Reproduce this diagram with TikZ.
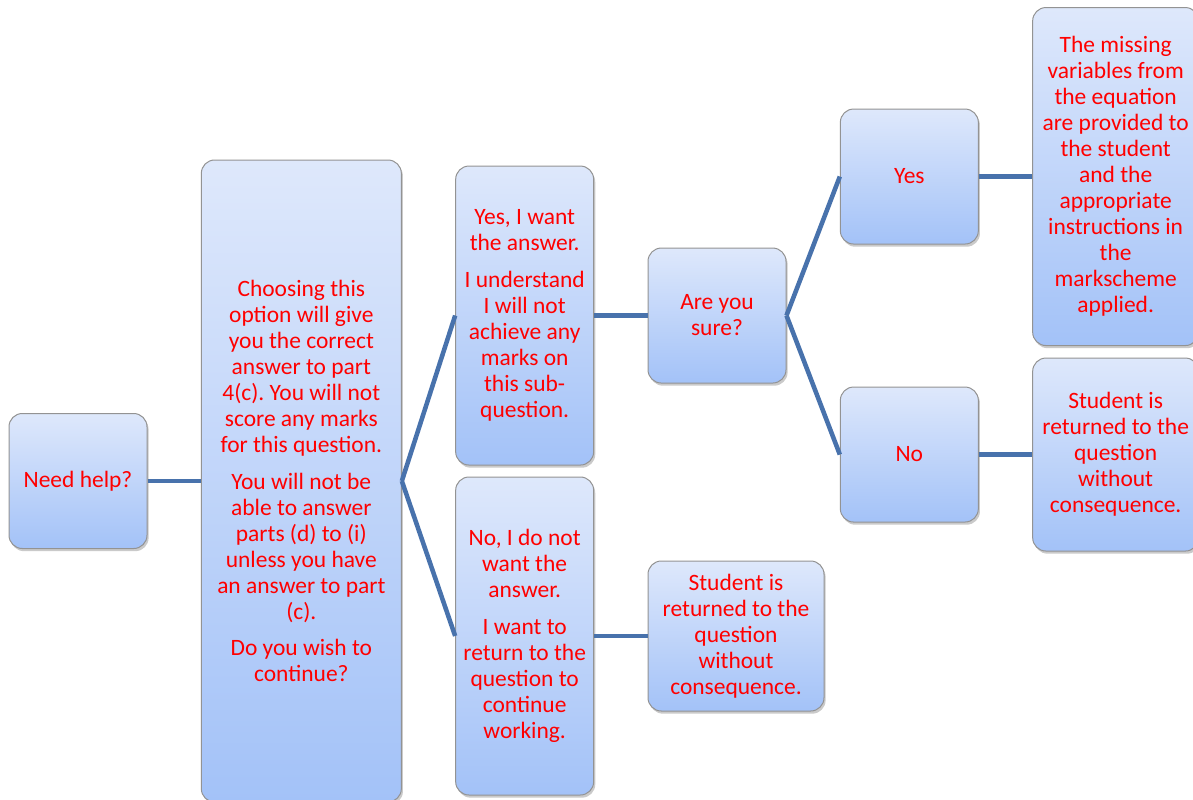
\documentclass[tikz,border=0pt]{standalone}
\usepackage{fontspec}
\setmainfont{Carlito}
\usepackage{tikz}
\usetikzlibrary{positioning, shadows}

\definecolor{linkblue}{RGB}{72,114,172}
\definecolor{boxtop}{RGB}{222,232,251}
\definecolor{boxbottom}{RGB}{163,194,248}

\frenchspacing
\begin{document}
\begin{tikzpicture}[
    node distance=40pt,
    box/.style={rectangle, rounded corners=10pt, align=center, draw=gray!85, line width=0.75pt,
        top color=boxtop, bottom color=boxbottom, text=red,
        font=\fontsize{17.6}{19.5}\selectfont,
        drop shadow={shadow xshift=1.2pt, shadow yshift=-2pt, opacity=0.35, fill=black!60}},
    link/.style={draw=linkblue, line width=3.4pt}
]
\useasboundingbox (0,0) rectangle (894.75pt,-600pt);

% Nodes
\node (help) [box, minimum width=103.5pt, minimum height=101.25pt] at (58.5pt,-360.75pt) {Need help?};
\node (choose) [box, right=of help, minimum width=150pt, minimum height=481.5pt] {Choosing this\\option will give\\you the correct\\answer to part\\4(c). You will not\\score any marks\\for this question.\\[8pt]You will not be\\able to answer\\parts (d) to (i)\\unless you have\\an answer to part\\(c).\\[8pt]Do you wish to\\continue?};
\node (wantyes) [box, right=of choose, yshift=124.1pt, minimum width=103.5pt, minimum height=224.25pt] {Yes, I want\\the answer.\\[8pt]I understand\\I will not\\achieve any\\marks on\\this sub-\\question.};
\node (wantno) [box, right=of choose, yshift=-116.25pt, minimum width=103.5pt, minimum height=238.5pt] {No, I do not\\want the\\answer.\\[8pt]I want to\\return to the\\question to\\continue\\working.};
\node (sure) [box, right=of wantyes, minimum width=103.5pt, minimum height=101.25pt] {Are you\\sure?};
\node (back1) [box, right=of wantno, minimum width=132pt, minimum height=112.5pt] {Student is\\returned to the\\question\\without\\consequence.};
\node (yes) [box, right=of sure, yshift=104.25pt, minimum width=103.5pt, minimum height=101.25pt] {Yes};
\node (no) [box, right=of sure, yshift=-104.25pt, minimum width=103.5pt, minimum height=101.25pt] {No};
\node (given) [box, right=of yes, minimum width=124.5pt, minimum height=253.5pt] {The missing\\variables from\\the equation\\are provided to\\the student\\and the\\appropriate\\instructions in\\the\\markscheme\\applied.};
\node (back2) [box, right=of no, minimum width=124.5pt, minimum height=144.75pt] {Student is\\returned to the\\question\\without\\consequence.};

% Lines
\draw [link] (help) -- (choose);
\draw [link] (choose.east) -- (wantyes.west);
\draw [link] (choose.east) -- (wantno.west);
\draw [link] (wantyes) -- (sure);
\draw [link] (wantno) -- (back1);
\draw [link] (sure.east) -- (yes.west);
\draw [link] (sure.east) -- (no.west);
\draw [link] (yes) -- (given);
\draw [link] (no) -- (back2);

\end{tikzpicture}
\end{document}
